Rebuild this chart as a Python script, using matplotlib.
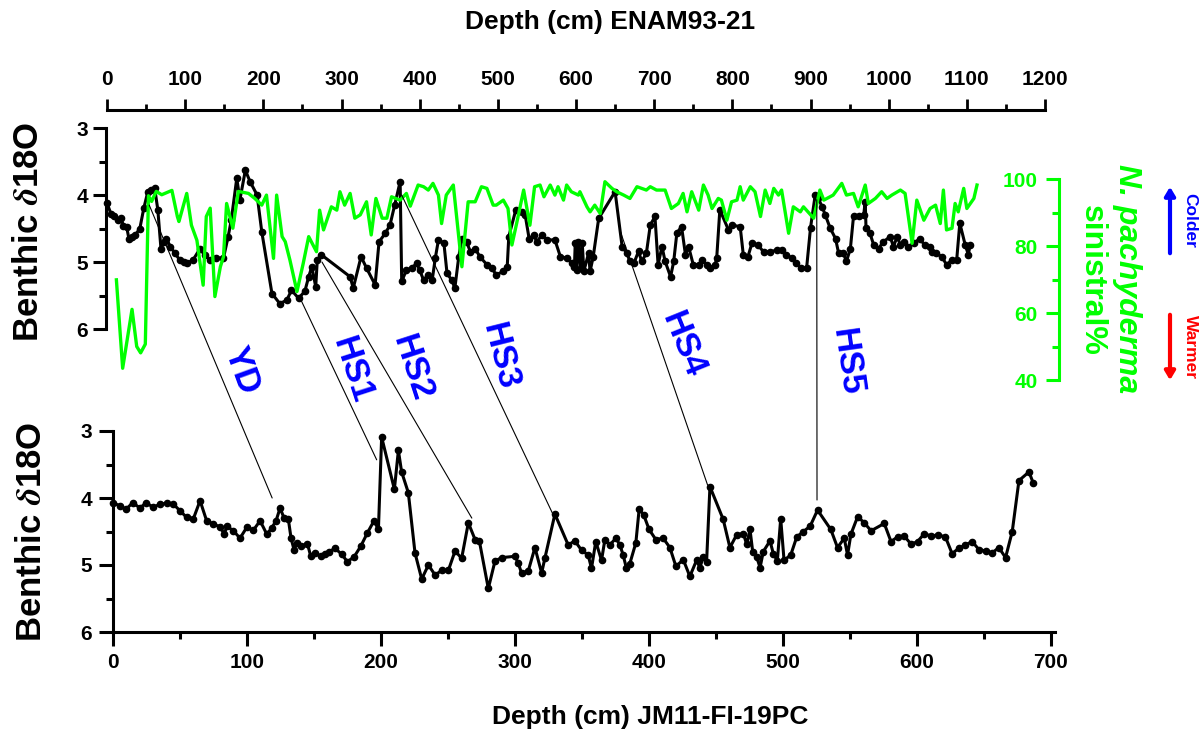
import matplotlib
matplotlib.use('Agg')
import matplotlib.pyplot as plt
from matplotlib.patches import ConnectionPatch, FancyArrowPatch
from matplotlib.ticker import MultipleLocator, FixedLocator

plt.rcParams['font.family'] = ['Liberation Sans', 'DejaVu Sans']
plt.rcParams['font.weight'] = 'bold'
plt.rcParams['mathtext.fontset'] = 'stix'

W, H = 1204, 735
GREEN = '#00ff00'

# ENAM93-21 benthic d18O
enam_depth = [0, 5, 9, 14, 18, 21, 25, 28, 32, 36, 42, 47, 52, 56, 61, 65, 69, 73, 76, 81,
              87, 93, 98, 102, 110, 119, 125, 132, 140, 149, 155, 159, 166, 170, 177, 183, 192, 198, 211, 221,
              230, 236, 245, 253, 258, 262, 267, 269, 274, 311, 315, 325, 332, 343, 348, 356, 362, 368, 375, 377,
              383, 390, 396, 400, 405, 411, 416, 420, 424, 431, 435, 441, 445, 450, 454, 460, 465, 471, 477, 486,
              492, 498, 507, 512, 514, 523, 531, 535, 540, 546, 550, 556, 563, 573, 580, 588, 595, 598, 599, 601,
              603, 606, 608, 610, 616, 618, 622, 629, 650, 659, 665, 669, 674, 680, 684, 690, 695, 701, 705, 710,
              714, 721, 725, 729, 735, 740, 744, 750, 757, 761, 767, 771, 778, 780, 784, 795, 799, 810, 814, 820,
              825, 833, 840, 848, 857, 863, 869, 876, 882, 888, 895, 900, 906, 910, 915, 919, 925, 932, 936, 942,
              946, 951, 955, 962, 968, 970, 971, 976, 981, 987, 993, 1002, 1006, 1011, 1015, 1019, 1025, 1032, 1040, 1046,
              1053, 1055, 1061, 1068, 1074, 1081, 1087, 1091, 1098, 1102, 1104]
enam_d18o = [4.12, 4.28, 4.32, 4.37, 4.35, 4.46, 4.47, 4.65, 4.62, 4.60, 4.50, 4.20, 3.96, 3.93, 3.90, 4.22, 4.80, 4.70, 4.65, 4.77,
             4.87, 4.97, 5.00, 5.02, 4.97, 4.80, 4.90, 4.97, 4.94, 4.94, 4.62, 4.37, 3.75, 4.07, 3.63, 3.80, 4.00, 4.55, 5.47, 5.62,
             5.57, 5.42, 5.54, 5.44, 5.22, 5.07, 5.37, 4.97, 4.89, 5.22, 5.39, 4.92, 5.09, 5.34, 4.70, 4.57, 4.45, 4.15, 3.80, 5.29,
             5.12, 5.09, 5.02, 5.12, 5.27, 5.19, 5.27, 4.94, 4.67, 4.72, 5.17, 5.27, 5.39, 4.92, 4.65, 4.70, 4.85, 4.80, 4.92, 5.04,
             5.09, 5.19, 5.14, 5.07, 4.62, 4.22, 4.25, 4.30, 4.65, 4.60, 4.70, 4.60, 4.67, 4.67, 4.92, 4.94, 5.02, 5.07, 4.72, 5.12,
             4.70, 5.09, 4.72, 5.14, 4.87, 5.14, 4.92, 4.35, 3.95, 4.77, 4.87, 4.99, 5.02, 4.84, 4.99, 4.87, 4.45, 4.32, 5.04, 4.77,
             4.99, 5.22, 4.99, 4.57, 4.47, 4.89, 4.77, 5.04, 5.04, 4.97, 5.04, 5.09, 5.04, 4.94, 4.22, 4.52, 4.45, 4.47, 4.89, 4.92,
             4.72, 4.75, 4.85, 4.85, 4.82, 4.82, 4.89, 4.94, 5.02, 5.09, 5.09, 4.49, 4.00, 4.05, 4.18, 4.30, 4.49, 4.65, 4.87, 4.87,
             4.99, 4.80, 4.32, 4.32, 4.30, 4.10, 4.49, 4.57, 4.75, 4.80, 4.70, 4.62, 4.77, 4.62, 4.75, 4.70, 4.77, 4.72, 4.65, 4.75,
             4.77, 4.85, 4.87, 4.92, 5.04, 4.97, 4.97, 4.42, 4.75, 4.89, 4.75]

# ENAM93-21 N. pachyderma sinistral %
np_depth = [12, 20, 32, 38, 43, 49, 53, 57, 63, 70, 83, 90, 92, 102, 108, 115, 123, 127, 132, 138,
            145, 149, 153, 161, 168, 181, 189, 198, 204, 213, 217, 224, 228, 234, 243, 251, 258, 268, 272, 277,
            287, 294, 298, 304, 311, 317, 324, 332, 338, 344, 352, 358, 364, 375, 383, 388, 398, 405, 411, 417,
            424, 428, 434, 443, 454, 462, 471, 479, 486, 494, 498, 507, 513, 518, 524, 533, 541, 547, 554, 559,
            567, 573, 577, 584, 588, 594, 603, 605, 614, 618, 624, 631, 637, 646, 652, 661, 669, 678, 684, 690,
            695, 703, 714, 722, 731, 737, 742, 748, 757, 763, 769, 774, 782, 786, 793, 799, 806, 810, 814, 823,
            829, 836, 842, 848, 853, 859, 863, 872, 878, 887, 891, 904, 912, 917, 925, 929, 940, 946, 955, 961,
            970, 974, 983, 991, 998, 1004, 1015, 1021, 1030, 1036, 1045, 1053, 1060, 1066, 1070, 1074, 1081, 1085, 1089, 1096,
            1100, 1109, 1113]
np_pct = [69.9, 43.5, 61.1, 50.0, 48.1, 50.7, 95.0, 93.3, 96.3, 95.3, 96.6, 88.8, 87.3, 95.7, 86.2, 81.7, 68.3, 88.8, 91.3, 64.9,
          73.8, 76.8, 92.7, 85.3, 96.3, 95.7, 94.2, 92.2, 95.2, 76.3, 95.2, 82.8, 81.3, 75.8, 66.4, 74.8, 82.8, 78.3, 90.7, 84.8,
          91.7, 90.7, 96.2, 92.2, 95.7, 88.3, 89.3, 93.2, 83.3, 94.2, 88.3, 88.3, 94.7, 93.7, 95.7, 91.9, 98.2, 97.7, 96.7, 98.7,
          95.2, 86.7, 95.2, 98.2, 73.8, 93.2, 93.2, 97.7, 97.2, 92.2, 92.2, 93.7, 91.2, 80.3, 86.7, 96.7, 86.2, 97.7, 98.2, 94.7,
          98.2, 95.2, 97.7, 93.7, 98.2, 96.2, 95.2, 96.2, 91.7, 90.2, 92.2, 89.7, 99.2, 97.2, 96.2, 95.2, 94.2, 97.7, 97.2, 96.7,
          97.7, 96.7, 96.7, 91.2, 92.7, 95.7, 90.2, 96.2, 90.7, 98.2, 95.2, 91.2, 94.2, 93.7, 87.7, 93.2, 93.7, 97.7, 93.7, 97.7,
          96.2, 88.8, 96.7, 92.7, 97.2, 95.2, 96.7, 83.8, 91.7, 90.2, 91.7, 88.3, 96.7, 93.7, 94.7, 95.2, 98.7, 95.2, 95.7, 91.7,
          98.2, 92.7, 94.2, 96.2, 94.2, 95.2, 96.7, 95.7, 80.8, 93.7, 87.7, 91.2, 92.2, 86.7, 96.7, 84.8, 85.3, 92.7, 90.2, 97.2,
          91.2, 94.2, 98.2]

# JM11-FI-19PC benthic d18O
jm_depth = [0.5, 5.4, 9.9, 14.9, 20.4, 24.9, 30.3, 35.3, 40.3, 45.2, 50.2, 55.2, 60.2, 65.2, 70.1, 75.1, 80.1, 83.3, 85.1, 90.1,
            95.0, 100.0, 105.0, 110.0, 115.0, 118.6, 121.9, 124.9, 127.9, 131.1, 133.1, 135.3, 137.8, 140.3, 145.3, 147.8, 151.0, 155.2, 158.4, 161.7,
            165.9, 170.9, 175.1, 180.1, 185.1, 190.1, 195.0, 198.3, 200.7, 210.2, 213.2, 215.6, 220.6, 225.6, 230.6, 235.6, 240.6, 245.5, 250.5, 255.5,
            260.4, 265.4, 270.4, 273.6, 280.3, 285.3, 290.2, 300.2, 302.6, 305.1, 310.1, 315.1, 320.1, 322.5, 330.0, 339.9, 344.9, 349.9, 354.8, 357.3,
            360.5, 364.8, 367.3, 371.0, 375.5, 378.5, 380.9, 383.4, 385.9, 390.4, 392.9, 396.4, 400.3, 405.3, 410.8, 415.8, 420.3, 425.8, 430.7, 435.7,
            438.2, 440.7, 443.2, 445.7, 455.6, 460.6, 465.6, 470.6, 473.1, 475.6, 477.6, 480.6, 483.1, 485.5, 490.5, 493.0, 496.0, 498.5, 501.0, 506.0,
            510.5, 515.5, 520.5, 526.0, 535.9, 540.9, 545.9, 548.4, 550.9, 555.9, 560.9, 565.9, 575.8, 580.8, 585.8, 590.8, 595.8, 600.7, 605.7, 610.7,
            615.7, 621.4, 626.4, 631.4, 636.4, 641.4, 646.4, 651.4, 656.3, 661.3, 666.3, 671.3, 676.3, 683.8, 687.0]
jm_d18o = [4.07, 4.12, 4.17, 4.07, 4.15, 4.07, 4.14, 4.09, 4.08, 4.09, 4.19, 4.29, 4.31, 4.04, 4.34, 4.39, 4.43, 4.54, 4.42, 4.49,
           4.60, 4.44, 4.48, 4.34, 4.54, 4.45, 4.34, 4.15, 4.30, 4.32, 4.60, 4.77, 4.67, 4.72, 4.68, 4.87, 4.82, 4.87, 4.83, 4.80,
           4.75, 4.84, 4.95, 4.88, 4.72, 4.52, 4.34, 4.47, 3.09, 3.87, 3.29, 3.61, 3.92, 4.82, 5.21, 5.00, 5.15, 5.08, 5.08, 4.79,
           4.90, 4.37, 4.62, 4.64, 5.35, 4.94, 4.89, 4.87, 4.97, 5.12, 5.09, 4.74, 5.12, 4.90, 4.24, 4.70, 4.64, 4.78, 4.85, 5.05,
           4.65, 4.93, 4.62, 4.70, 4.60, 4.70, 4.85, 5.05, 4.98, 4.67, 4.16, 4.26, 4.47, 4.62, 4.60, 4.74, 5.02, 4.92, 5.17, 4.93,
           5.04, 4.88, 4.95, 3.83, 4.32, 4.74, 4.55, 4.53, 4.69, 4.47, 4.80, 4.88, 5.04, 4.80, 4.64, 4.83, 4.94, 4.31, 4.93, 4.85,
           4.58, 4.50, 4.42, 4.18, 4.47, 4.74, 4.60, 4.85, 4.54, 4.28, 4.37, 4.49, 4.38, 4.65, 4.58, 4.57, 4.69, 4.65, 4.53, 4.57,
           4.55, 4.58, 4.83, 4.75, 4.70, 4.65, 4.77, 4.79, 4.82, 4.74, 4.89, 4.50, 3.74, 3.61, 3.78]

# tie points between the two cores
tie_names = ['YD', 'HS1', 'HS2', 'HS3', 'HS4', 'HS5']
tie_enam_depth = [54, 247, 275, 377, 656, 908]
tie_enam_d18o = [4.15, 5.54, 5.00, 4.00, 4.52, 4.07]
tie_jm_depth = [119, 197, 268, 328, 444, 525.6]
tie_jm_d18o = [4.00, 3.43, 4.30, 4.22, 3.81, 4.03]

# label centres (pixels) and angles for the event names
label_pos = [(242, 370), (352, 370), (412, 368), (500, 357), (683, 345), (847, 362)]
label_rot = [-70, -72, -72, -76, -68, -82]


def px_box(left, top, right, bottom):
    return [left / W, 1 - bottom / H, (right - left) / W, (bottom - top) / H]


def fx(x):
    return x / W


def fy(y):
    return 1 - y / H


fig = plt.figure(figsize=(W / 100, H / 100), dpi=100)

# upper panel: ENAM93-21
ax1 = fig.add_axes(px_box(106, 110, 1059, 420))
ax1.patch.set_alpha(0)
ax1.plot(enam_depth, enam_d18o, '-o', color='black', lw=2.2, ms=4.5, clip_on=False, zorder=3)
ax1.set_xlim(-1.3, 1217.9)
ax1.set_ylim(7.358, 2.731)
ax1.xaxis.tick_top()
ax1.set_xticks(range(0, 1300, 100))
ax1.xaxis.set_minor_locator(FixedLocator(range(50, 1200, 100)))
ax1.set_yticks([3, 4, 5, 6])
ax1.yaxis.set_minor_locator(FixedLocator([3.5, 4.5, 5.5]))
ax1.spines['bottom'].set_visible(False)
ax1.spines['right'].set_visible(False)
ax1.spines['top'].set_bounds(0, 1200)
ax1.spines['left'].set_bounds(3, 6)
for s in ('top', 'left'):
    ax1.spines[s].set_linewidth(2.2)
ax1.tick_params(axis='x', which='major', direction='out', length=8, width=2, labelsize=15, pad=7)
ax1.tick_params(axis='x', which='minor', direction='out', length=4, width=2)
ax1.tick_params(axis='y', which='major', direction='out', length=9.5, width=2.2, labelsize=15)
ax1.tick_params(axis='y', which='minor', direction='out', length=5, width=2.2)

# N. pachyderma on its own scale, labels sit left of the spine
ax2 = ax1.twinx()
ax2.plot(np_depth, np_pct, '-', color=GREEN, lw=2.4, zorder=4)
ax2.set_ylim(28.06, 120.6)
for s in ('top', 'bottom', 'left'):
    ax2.spines[s].set_visible(False)
ax2.spines['right'].set_bounds(40, 100)
ax2.spines['right'].set_color(GREEN)
ax2.spines['right'].set_linewidth(2.2)
ax2.set_yticks([40, 60, 80, 100])
ax2.yaxis.set_minor_locator(FixedLocator([50, 70, 90]))
ax2.tick_params(axis='y', which='major', direction='in', length=9.5, width=2.2,
                colors=GREEN, labelsize=15, pad=-15.5)
ax2.tick_params(axis='y', which='minor', direction='in', length=5, width=2.2, colors=GREEN)
for lab in ax2.get_yticklabels():
    lab.set_horizontalalignment('right')

# lower panel: JM11-FI-19PC
ax3 = fig.add_axes(px_box(112.7, 431, 1055, 632))
ax3.patch.set_alpha(0)
ax3.plot(jm_depth, jm_d18o, '-o', color='black', lw=2.2, ms=4.5, clip_on=False, zorder=3)
ax3.set_xlim(0, 703.2)
ax3.set_ylim(6, 3)
ax3.set_xticks(range(0, 800, 100))
ax3.xaxis.set_minor_locator(FixedLocator(range(50, 700, 100)))
ax3.set_yticks([3, 4, 5, 6])
ax3.yaxis.set_minor_locator(FixedLocator([3.5, 4.5, 5.5]))
ax3.spines['top'].set_visible(False)
ax3.spines['right'].set_visible(False)
for s in ('bottom', 'left'):
    ax3.spines[s].set_linewidth(2.2)
ax3.tick_params(axis='both', which='major', direction='out', length=10, width=2.2, labelsize=15, pad=5)
ax3.tick_params(axis='both', which='minor', direction='out', length=5, width=2.2)

# tie lines and event names
for name, e, d1, j, d2, (lx, ly), rot in zip(tie_names, tie_enam_depth, tie_enam_d18o,
                                             tie_jm_depth, tie_jm_d18o, label_pos, label_rot):
    con = ConnectionPatch(xyA=(e, d1), coordsA='data', axesA=ax1,
                          xyB=(j, d2), coordsB='data', axesB=ax3,
                          color='black', lw=0.8)
    fig.add_artist(con)
    fig.text(fx(lx), fy(ly), name, color='blue', fontsize=25, rotation=rot,
             ha='center', va='center')

# axis titles
fig.text(fx(610), fy(22), 'Depth (cm) ENAM93-21', fontsize=19, ha='center', va='center')
fig.text(fx(650), fy(717), 'Depth (cm) JM11-FI-19PC', fontsize=19, ha='center', va='center')
fig.text(fx(29), fy(232), r'Benthic $\delta$18O', fontsize=25, rotation=90, ha='center', va='center')
fig.text(fx(32), fy(532), r'Benthic $\delta$18O', fontsize=25, rotation=90, ha='center', va='center')
fig.text(fx(1127), fy(279), 'N. pachyderma', fontsize=23, style='italic', color=GREEN,
         rotation=-90, ha='center', va='center')
fig.text(fx(1092), fy(280), 'sinistral%', fontsize=23, color=GREEN,
         rotation=-90, ha='center', va='center')

# colder / warmer arrows
fig.add_artist(FancyArrowPatch((fx(1170), fy(256)), (fx(1170), fy(184)), transform=fig.transFigure,
                               arrowstyle='-|>,head_length=5,head_width=3', color='blue', lw=3))
fig.add_artist(FancyArrowPatch((fx(1170), fy(312)), (fx(1170), fy(383)), transform=fig.transFigure,
                               arrowstyle='-|>,head_length=5,head_width=3', color='red', lw=3))
fig.text(fx(1190), fy(220), 'Colder', fontsize=12.5, color='blue', rotation=-90, ha='center', va='center')
fig.text(fx(1190), fy(347), 'Warmer', fontsize=12.5, color='red', rotation=-90, ha='center', va='center')

fig.savefig('out.png', dpi=100)
